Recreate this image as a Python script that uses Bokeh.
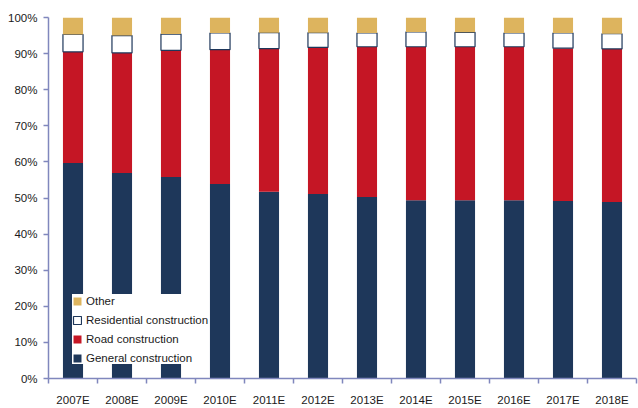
from bokeh.plotting import figure
from bokeh.models import (ColumnDataSource, FixedTicker, PrintfTickFormatter,
                          Legend, LegendItem, Range1d)
from bokeh.embed import file_html
from bokeh.resources import INLINE

categories = ["2007E", "2008E", "2009E", "2010E", "2011E", "2012E",
              "2013E", "2014E", "2015E", "2016E", "2017E", "2018E"]
general = [59.7, 56.9, 55.8, 53.9, 51.7, 51.1, 50.3, 49.4, 49.4, 49.4, 49.2, 48.9]
road = [30.8, 33.3, 35.1, 37.2, 39.7, 40.6, 41.6, 42.5, 42.5, 42.5, 42.3, 42.4]
residential = [4.8, 4.8, 4.5, 4.6, 4.4, 4.1, 3.8, 4.1, 4.0, 3.8, 4.2, 4.2]
other = [4.7, 5.0, 4.6, 4.3, 4.2, 4.2, 4.3, 4.0, 4.1, 4.3, 4.3, 4.5]
y_ticks = [0, 10, 20, 30, 40, 50, 60, 70, 80, 90, 100]

FONT = "Liberation Sans"
FSIZE = "11.5px"
AXIS_COLOR = "#8087bd"

xs = [i + 0.5 for i in range(len(categories))]
source = ColumnDataSource(dict(x=xs, general=general, road=road,
                               residential=residential, other=other))

p = figure(width=638, height=408, output_backend="svg", toolbar_location=None,
           x_range=Range1d(0, len(categories)), y_range=Range1d(0, 100),
           min_border_left=48, min_border_right=2, min_border_top=17,
           min_border_bottom=29)
p.outline_line_color = None
p.xgrid.visible = False
p.ygrid.visible = False

renderers = p.vbar_stack(["general", "road", "residential", "other"], x="x",
                         width=0.41, source=source,
                         fill_color=["#1e375a", "#c51625", "#ffffff", "#ddb45e"],
                         line_color=[None, None, "#1e375a", None],
                         line_width=1.2)

# axes
p.xaxis.ticker = FixedTicker(ticks=xs, minor_ticks=list(range(len(categories) + 1)))
p.xaxis.major_label_overrides = {x: c for x, c in zip(xs, categories)}
p.xaxis.major_tick_out = 0
p.xaxis.major_tick_in = 0
p.xaxis.minor_tick_out = 5
p.xaxis.minor_tick_in = 0
p.xaxis.minor_tick_line_color = AXIS_COLOR
p.xaxis.major_label_standoff = 10

p.yaxis.ticker = FixedTicker(ticks=y_ticks)
p.yaxis.formatter = PrintfTickFormatter(format="%d%%")
p.yaxis.major_tick_out = 5
p.yaxis.major_tick_in = 0
p.yaxis.minor_tick_line_color = None
p.yaxis.major_label_standoff = 6

for ax in (p.xaxis, p.yaxis):
    ax.axis_line_color = AXIS_COLOR
    ax.axis_line_width = 1.5
    ax.major_tick_line_color = AXIS_COLOR
    ax.major_tick_line_width = 1.5
    ax.minor_tick_line_width = 1.5
    ax.major_label_text_font = FONT
    ax.major_label_text_font_size = FSIZE
    ax.major_label_text_color = "#1a1a1a"

labels = ["General construction", "Road construction",
          "Residential construction", "Other"]
items = [LegendItem(label=l, renderers=[r]) for l, r in zip(labels, renderers)]
items.reverse()
legend = Legend(items=items, location=(24, 14), orientation="vertical",
                glyph_width=10, glyph_height=10, label_height=13,
                label_standoff=4, spacing=6, padding=7, margin=0,
                label_text_font=FONT, label_text_font_size=FSIZE,
                label_text_color="#1a1a1a", border_line_color=None,
                background_fill_color="white", background_fill_alpha=1.0)
p.add_layout(legend, "center")

open("out.html", "w").write(file_html(p, INLINE))
